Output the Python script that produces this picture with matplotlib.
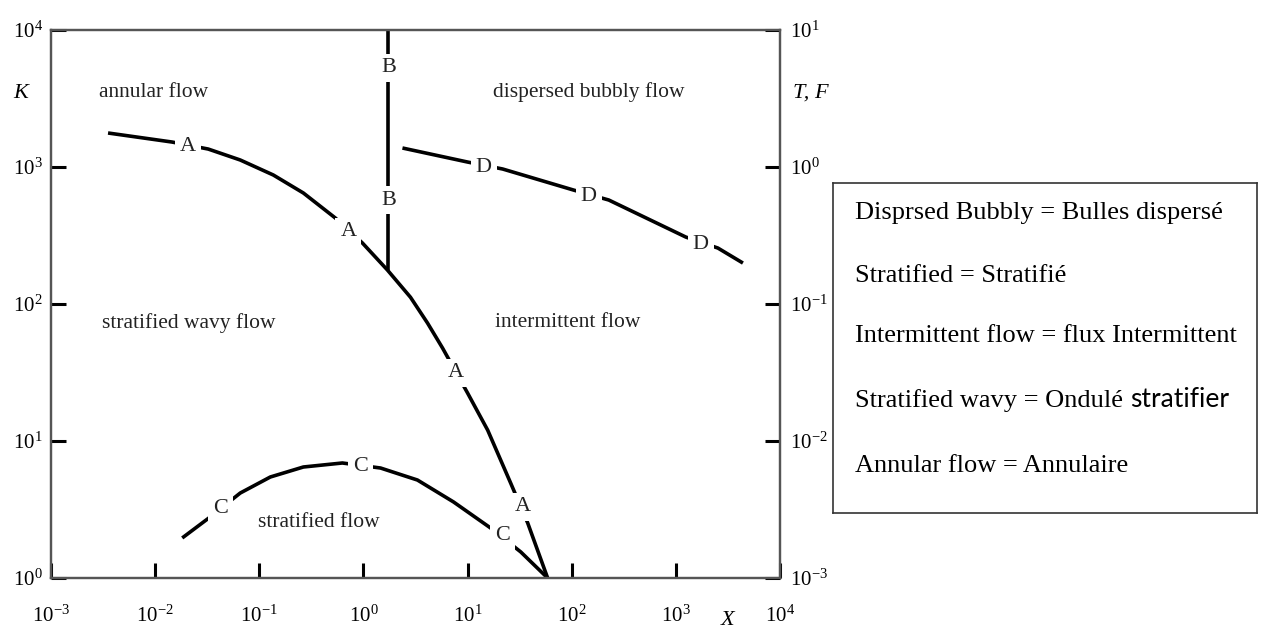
import matplotlib
matplotlib.use("Agg")
import matplotlib.pyplot as plt
from matplotlib.ticker import FixedLocator, FixedFormatter, NullLocator

plt.rcParams['font.family'] = ['Liberation Serif', 'DejaVu Serif']
plt.rcParams['mathtext.fontset'] = 'custom'
plt.rcParams['mathtext.rm'] = 'Liberation Serif'
plt.rcParams['mathtext.it'] = 'Liberation Serif:italic'

# boundary curves of the flow regime map
a_x = [0.00353, 0.01456, 0.03236, 0.0656, 0.1364, 0.265, 0.538, 0.977, 1.70,
       2.83, 4.12, 5.75, 10.0, 15.6, 25.9, 37.8, 58.7]
a_y = [1771, 1521, 1352, 1125, 874, 646, 424, 279, 177,
       112, 72.7, 47.7, 22.4, 12.0, 4.94, 2.52, 1.0]
b_x = [1.74, 1.74]
b_y = [10000, 177]
c_x = [0.0182, 0.0338, 0.0656, 0.1276, 0.265, 0.628, 1.46, 3.30, 7.33, 16.6, 32.4, 58.7]
c_y = [1.96, 2.79, 4.17, 5.46, 6.46, 6.91, 6.35, 5.19, 3.59, 2.32, 1.55, 1.0]
d_x = [2.37, 10.0, 21.7, 104, 227, 1247, 2535, 4406]
d_y = [1376, 1087, 967, 679, 574, 308, 256, 199]

# curve letters sitting on the lines
letters = ['A', 'A', 'A', 'A', 'B', 'B', 'C', 'C', 'C', 'D', 'D', 'D']
letter_x = [0.0207, 0.718, 7.67, 33.8, 1.74, 1.74, 0.0422, 0.936, 21.7, 14.3, 145.5, 1738]
letter_y = [1400, 336, 31.4, 3.30, 5280, 574, 3.24, 6.46, 2.03, 984, 604, 270]

regions = ['annular flow', 'dispersed bubbly flow', 'stratified wavy flow',
           'intermittent flow', 'stratified flow']
region_x = [0.00957, 145.5, 0.0212, 91.6, 0.369]
region_y = [3527, 3527, 72.7, 72.7, 2.56]

x_ticks = [1e-3, 1e-2, 1e-1, 1e0, 1e1, 1e2, 1e3, 1e4]
x_labels = ['$10^{-3}$', '$10^{-2}$', '$10^{-1}$', '$10^{0}$', '$10^{1}$', '$10^{2}$', '$10^{3}$', '$10^{4}$']
k_ticks = [1e0, 1e1, 1e2, 1e3, 1e4]
k_labels = ['$10^{0}$', '$10^{1}$', '$10^{2}$', '$10^{3}$', '$10^{4}$']
tf_ticks = [1e-3, 1e-2, 1e-1, 1e0, 1e1]
tf_labels = ['$10^{-3}$', '$10^{-2}$', '$10^{-1}$', '$10^{0}$', '$10^{1}$']

legend_lines = ['Disprsed Bubbly = Bulles dispersé',
                'Stratified = Stratifié',
                'Intermittent flow = flux Intermittent',
                'Stratified wavy = Ondulé',
                'Annular flow = Annulaire']

W, H = 1262, 639
fig = plt.figure(figsize=(W / 100, H / 100), dpi=100)
ax = fig.add_axes([51 / W, (H - 578) / H, (780 - 51) / W, (578 - 30) / H])
ax.set_xscale('log')
ax.set_yscale('log')
ax.set_xlim(1e-3, 1e4)
ax.set_ylim(1, 1e4)

for xs, ys in [(a_x, a_y), (b_x, b_y), (c_x, c_y), (d_x, d_y)]:
    ax.plot(xs, ys, color='black', lw=2.6, solid_capstyle='butt', solid_joinstyle='round')

for s, x, y in zip(letters, letter_x, letter_y):
    ax.text(x, y, s, ha='center', va='center', fontsize=16, color='#222222',
            bbox=dict(boxstyle='square,pad=0.22', fc='white', ec='none'))

for s, x, y in zip(regions, region_x, region_y):
    ax.text(x, y, s, ha='center', va='center', fontsize=15.5, color='#222222')

ax.xaxis.set_major_locator(FixedLocator(x_ticks))
ax.xaxis.set_major_formatter(FixedFormatter(x_labels))
ax.xaxis.set_minor_locator(NullLocator())
ax.yaxis.set_major_locator(FixedLocator(k_ticks))
ax.yaxis.set_major_formatter(FixedFormatter(k_labels))
ax.yaxis.set_minor_locator(NullLocator())
ax.tick_params(axis='x', direction='in', length=11, width=2.2, pad=20, labelsize=15)
ax.tick_params(axis='y', direction='in', length=11, width=2.2, pad=6, labelsize=15)

ax2 = ax.twinx()
ax2.set_yscale('log')
ax2.set_ylim(1e-3, 1e1)
ax2.yaxis.set_major_locator(FixedLocator(tf_ticks))
ax2.yaxis.set_major_formatter(FixedFormatter(tf_labels))
ax2.yaxis.set_minor_locator(NullLocator())
ax2.tick_params(axis='y', direction='in', length=11, width=2.2, pad=7, labelsize=15)

for a in (ax, ax2):
    for sp in a.spines.values():
        sp.set_color('#555555')
        sp.set_linewidth(1.6)

ax.text(-0.042, 0.885, 'K', transform=ax.transAxes, fontsize=16, style='italic',
        ha='center', va='center')
ax.text(1.042, 0.885, 'T, F', transform=ax.transAxes, fontsize=16, style='italic',
        ha='center', va='center')
ax.text(0.928, -0.078, 'X', transform=ax.transAxes, fontsize=16, style='italic',
        ha='center', va='center')

# translation box on the right
bax = fig.add_axes([833 / W, (H - 513) / H, (1257 - 833) / W, (513 - 183) / H])
bax.set_xticks([])
bax.set_yticks([])
for sp in bax.spines.values():
    sp.set_color('#333333')
    sp.set_linewidth(1.2)

line_y = [210, 273, 333, 398, 463]
texts = []
for s, py in zip(legend_lines, line_y):
    t = fig.text(855 / W, (H - py - 9) / H, s, fontsize=19, va='baseline', ha='left')
    texts.append(t)

fig.canvas.draw()
bb = texts[3].get_window_extent()
x1 = fig.transFigure.inverted().transform((bb.x1 + 7, 0))[0]
fig.text(x1, texts[3].get_position()[1], 'stratifier', fontsize=19, va='baseline',
         ha='left', family='Lato')

fig.savefig('out.png', dpi=100)
